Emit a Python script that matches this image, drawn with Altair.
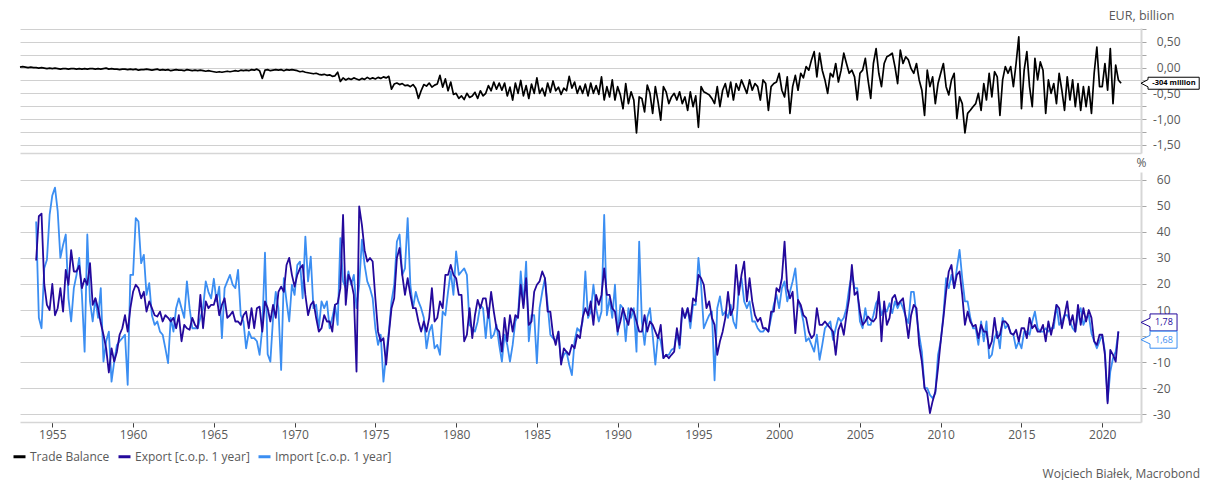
import altair as alt
import numpy as np
import pandas as pd

# ---------------- data (6 readings per year) ----------------
tb_start = 1953.0      # first reading of the trade balance
yoy_start = 1954.0     # first reading of export / import growth
per_year = 6

trade_balance = [
    0.01, 0.02, 0.01, 0.0, 0.01, 0.0,            # 1953
    0.0, -0.01, 0.0, -0.01, -0.02, -0.01,        # 1954
    -0.02, -0.01, -0.02, -0.03, -0.02, -0.02,    # 1955
    -0.03, -0.02, -0.02, -0.03, -0.02, -0.03,    # 1956
    -0.02, -0.03, -0.02, -0.02, -0.03, -0.02,    # 1957
    -0.03, -0.02, -0.01, -0.03, -0.02, -0.03,    # 1958
    -0.03, -0.04, -0.03, -0.03, -0.04, -0.03,    # 1959
    -0.04, -0.03, -0.05, -0.04, -0.04, -0.03,    # 1960
    -0.04, -0.05, -0.04, -0.03, -0.05, -0.04,    # 1961
    -0.05, -0.04, -0.06, -0.05, -0.04, -0.05,    # 1962
    -0.05, -0.06, -0.04, -0.05, -0.06, -0.05,    # 1963
    -0.06, -0.05, -0.06, -0.07, -0.06, -0.07,    # 1964
    -0.08, -0.09, -0.08, -0.09, -0.08, -0.07,    # 1965
    -0.08, -0.07, -0.06, -0.07, -0.05, -0.06,    # 1966
    -0.05, -0.06, -0.04, -0.05, -0.03, -0.06,    # 1967
    -0.21, -0.05, -0.04, -0.06, -0.05, -0.04,    # 1968
    -0.05, -0.04, -0.06, -0.04, -0.05, -0.04,    # 1969
    -0.05, -0.06, -0.08, -0.07, -0.09, -0.10,    # 1970
    -0.11, -0.12, -0.11, -0.13, -0.14, -0.13,    # 1971
    -0.15, -0.14, -0.17, -0.16, -0.09, -0.27,    # 1972
    -0.20, -0.24, -0.21, -0.23, -0.20, -0.22,    # 1973
    -0.24, -0.21, -0.23, -0.19, -0.22, -0.20,    # 1974
    -0.22, -0.19, -0.21, -0.18, -0.20, -0.17,    # 1975
    -0.42, -0.32, -0.30, -0.33, -0.31, -0.35,    # 1976
    -0.34, -0.37, -0.33, -0.40, -0.60, -0.45,    # 1977
    -0.33, -0.36, -0.30, -0.38, -0.34, -0.32,    # 1978
    -0.15, -0.38, -0.22, -0.45, -0.28, -0.52,    # 1979
    -0.50, -0.60, -0.55, -0.62, -0.50, -0.58,    # 1980
    -0.55, -0.48, -0.60, -0.45, -0.55, -0.50,    # 1981
    -0.35, -0.45, -0.28, -0.42, -0.30, -0.44,    # 1982
    -0.30, -0.55, -0.38, -0.63, -0.30, -0.50,    # 1983
    -0.25, -0.55, -0.35, -0.60, -0.32, -0.50,    # 1984
    -0.20, -0.50, -0.40, -0.55, -0.30, -0.48,    # 1985
    -0.26, -0.45, -0.38, -0.52, -0.40, -0.45,    # 1986
    -0.17, -0.40, -0.28, -0.50, -0.36, -0.50,    # 1987
    -0.32, -0.55, -0.30, -0.50, -0.35, -0.52,    # 1988
    -0.18, -0.63, -0.37, -0.57, -0.24, -0.63,    # 1989
    -0.37, -0.53, -0.80, -0.31, -0.70, -0.47,    # 1990
    -0.63, -1.27, -0.57, -0.60, -0.86, -0.34,    # 1991
    -0.50, -0.89, -0.37, -0.66, -1.02, -0.37,    # 1992
    -0.47, -0.70, -0.57, -0.50, -0.63, -0.47,    # 1993
    -0.70, -0.57, -0.83, -0.47, -0.76, -0.55,    # 1994
    -1.16, -0.37, -0.47, -0.50, -0.53, -0.60,    # 1995
    -0.70, -0.37, -0.76, -0.44, -0.31, -0.57,    # 1996
    -0.28, -0.63, -0.31, -0.44, -0.24, -0.37,    # 1997
    -0.50, -0.24, -0.44, -0.31, -0.37, -0.63,    # 1998
    -0.24, -0.31, -0.83, -0.37, -0.31, -0.28,    # 1999
    -0.11, -0.44, -0.57, -0.18, -0.89, -0.37,    # 2000
    -0.15, -0.44, -0.11, -0.20, 0.02, -0.05,     # 2001
    0.15, 0.31, -0.18, 0.28, -0.05, -0.24,       # 2002
    -0.50, -0.11, -0.18, 0.08, -0.28, -0.05,     # 2003
    0.28, 0.08, -0.11, -0.05, -0.18, -0.63,      # 2004
    -0.11, -0.05, 0.18, -0.24, -0.60, 0.08,      # 2005
    0.37, -0.11, -0.37, 0.08, 0.21, 0.24,        # 2006
    0.28, 0.02, -0.31, 0.34, 0.08, 0.21,         # 2007
    0.15, -0.02, -0.11, 0.08, -0.24, -0.44,      # 2008
    -0.93, -0.05, -0.37, -0.18, -0.70, -0.31,    # 2009
    -0.11, 0.08, -0.37, -0.53, -0.24, -0.11,     # 2010
    -0.99, -0.57, -0.70, -1.27, -0.89, -0.83,    # 2011
    -0.76, -0.70, -0.50, -0.83, -0.31, -0.63,    # 2012
    -0.11, -0.57, -0.08, -0.18, -0.93, -0.24,    # 2013
    0.02, -0.11, 0.02, -0.37, 0.08, 0.60,        # 2014
    -0.80, -0.05, 0.31, -0.37, -0.76, 0.18,      # 2015
    -0.24, 0.11, -0.05, -0.89, -0.24, -0.50,     # 2016
    -0.31, -0.70, -0.11, -0.44, -0.83, -0.18,    # 2017
    -0.63, -0.24, -0.76, -0.31, -0.83, -0.37,    # 2018
    -0.76, -0.37, -0.89, -0.11, 0.40, -0.37,     # 2019
    -0.37, 0.08, -0.44, 0.37, -0.70, 0.05,       # 2020
    -0.24, -0.304,                               # 2021
]

export_yoy = [
    29, 46, 47, 20, 12, 10,              # 1954
    20, 8, 10.7, 18.4, 9.4, 25.4,        # 1955
    19.7, 33, 24.8, 24.8, 27, 18.4,      # 1956
    22, 19.7, 28, 12, 14.5, 10.7,        # 1957
    5, 0.5, -4.7, -14, -4.7, -9.8,       # 1958
    -6, 0.5, 3, 8, 1.7, 10.7,            # 1959
    17, 19.7, 18.4, 14.5, 17, 9.4,       # 1960
    13.3, 10.7, 8, 7.5, 9.4, 5.6,        # 1961
    8, 7, 5.6, 7, 3, 8,                  # 1962
    -2, 4.3, 3, 2.4, 7, 4.3,             # 1963
    3, 15.8, 3, 13.3, 10.7, 12,          # 1964
    12, 15.8, 8, 12, 14.5, 7,            # 1965
    8, 9.4, 5.6, 5.6, 4.3, 8,            # 1966
    9.4, 3, 10.7, 3, 10.7, 11.3,         # 1967
    1.7, 13.3, 10.7, 5.6, 12, 7,         # 1968
    17, 19, 17, 27.3, 30, 23.5,          # 1969
    19, 23.5, 26, 27.3, 15.8, 8,         # 1970
    12, 13.3, 7, 1.7, 3, 8,              # 1971
    5.6, 5.6, 1.7, 12, 12.6, 18.4,       # 1972
    46.5, 12, 23.5, 21, 15.8, -13.6,     # 1973
    49.8, 42.7, 33, 28.6, 30, 28.6,      # 1974
    14.5, 1.7, -2, -0.8, -11, 0.5,       # 1975
    10.7, 14.5, 30, 33.8, 23.5, 15.8,    # 1976
    22.2, 15.8, 10.7, 10.7, 5.6, 1.7,    # 1977
    5.6, 1.7, 7, 18.4, 5.6, 7,           # 1978
    13.3, 10.7, 23.5, 23.5, 27.3, 23.5,  # 1979
    22.2, 15.8, 15.8, -2, 0.5, 10.7,     # 1980
    -0.8, 8, 13.9, 10.7, 14.5, 14.5,     # 1981
    7, 17, 9.4, 3, 1.7, -6,              # 1982
    7, -2, 8, 1.7, 8, 7,                 # 1983
    19.7, 10.7, 22.2, 4.3, 5.6, 17,      # 1984
    19.7, 21, 24.8, 22.2, 9.4, 9.4,      # 1985
    0.5, -3.4, 1.7, -11, -4.7, -6,       # 1986
    -7.2, -3.4, -4.7, 0.5, -0.8, 7,      # 1987
    10.7, 8, 13.3, 4.3, 15.8, 12,        # 1988
    15.8, 26, 15.8, 15.8, 10.7, 9.4,     # 1989
    1.7, 5.6, 10.7, 7, 4.3, 10.7,        # 1990
    9.4, 5.6, 1.7, 1.7, 8, 1.7,          # 1991
    5.6, 4.3, 1.7, -0.8, 4.3, -8.5,      # 1992
    -7.2, -8.5, -7.2, -6, 3, -3.4,       # 1993
    10.7, 7, 10.7, 5.6, 14.5, 13.3,      # 1994
    23.5, 22.2, 19.7, 10.7, 13.3, 7,     # 1995
    4.3, -7.2, -2, 1.7, 7, 17,           # 1996
    8, 10.7, 27.3, 15.8, 23.5, 28.6,     # 1997
    13.3, 22.2, 13.3, 8, 5.6, 7,         # 1998
    3, 3, 1.7, 9.4, 9.4, 18.4,           # 1999
    17, 22.2, 36.3, 18.4, 14.5, 17,      # 2000
    1.1, 13.9, 12, 8, 7, 1.7,            # 2001
    -0.8, 0.5, 10.7, 4.3, 4.3, 5.6,      # 2002
    4.3, 3, 1.7, -7.2, 2.4, 5,           # 2003
    0.5, 8, 14.5, 27.3, 15.8, 17,        # 2004
    9.4, 4.3, 5.6, 7.5, 6.2, 5.6,        # 2005
    7, 17, -2, 13.3, 4.3, 7,             # 2006
    14.5, 15.8, 12, 13.3, 14.5, 7,       # 2007
    -0.8, 8, 12, 10.7, -3.4, -9.8,       # 2008
    -20, -22, -29.6, -25, -21.3, -12.3,  # 2009
    -2, 7, 17, 24.8, 27.3, 18.4,         # 2010
    23.5, 24.8, 15.8, 4.3, 9.4, 5.6,     # 2011
    3.7, 4.3, -0.8, 4.3, 1.7, 1.7,       # 2012
    -4.7, -2, 7, -0.8, 0.5, 5.6,         # 2013
    5.6, 4.3, 1.1, 0.5, 2.4, -2,         # 2014
    3, 3, -0.8, 7, 3, 4.3,               # 2015
    1.7, 1.7, 4.3, -2, 5.6, 0.5,         # 2016
    5.6, 12, 10.7, 3, 8, 13.3,           # 2017
    4.3, 8, 1.7, 12, 4.3, 10.7,          # 2018
    5.6, 10, 7, -2, -3.4, 0.5,           # 2019
    0.5, -7.2, -25.8, -5.3, -7.2, -9.8,  # 2020
    1.78,                                # 2021
]

import_yoy = [
    44, 7, 3, 26, 29.3, 46.5,            # 1954
    54, 57, 48, 30, 35, 39,              # 1955
    14.5, 5.6, 18.4, 23.5, 30, 15.8,     # 1956
    -6, 39, 13.3, 5.6, 14.5, 7,          # 1957
    18.4, -9.8, -2, 1.7, -17.5, -9.8,    # 1958
    -3.4, -2, -0.8, 0.5, -18.7, 23.5,    # 1959
    23.5, 45.3, 44, 28, 31.2, 15.8,      # 1960
    20.3, 8, 4.3, 5.6, 1.7, 0.5,         # 1961
    -4.7, -10.4, 7, 1.7, 10.7, 14.5,     # 1962
    10.7, 7, 21, 10.7, 3, 3,             # 1963
    3, 7, 10.7, 21, 17, 14.5,            # 1964
    22, 13.3, 19, -0.8, 18.4, 21,        # 1965
    23.5, 19.7, 18.4, 25.4, 8, 5.6,      # 1966
    -4.7, 1.7, -0.8, -0.8, -2, -7.2,     # 1967
    3, 32, -7, -9.8, 7, 17,              # 1968
    10.7, -13, 22.2, 13.3, 5.6, 19.7,    # 1969
    15.8, 27.3, 28.6, 14.5, 38.2, 21,    # 1970
    30.5, 10.7, 12, 3, 13.3, 10.7,       # 1971
    13.3, 3, 7, 12, 4.3, 37.6,           # 1972
    21, 18.4, 24.8, 19.7, 23.5, 10.7,    # 1973
    19.7, 37, 27.3, 21, 18.4, 14.5,      # 1974
    3, -3.4, 0.5, -17.5, -7.2, 1.7,      # 1975
    13.3, 19.7, 36.3, 39, 23.5, 26,      # 1976
    45.3, 19.7, 10.7, 17, 13.3, 10.7,    # 1977
    7, -4.7, 1.7, 4.3, -4.7, -3.4,       # 1978
    -7.2, 9.4, 8, 17, 24.8, 15.8,        # 1979
    32.5, 23.5, 24.8, 26, 23.5, 4.3,     # 1980
    3, 1.7, 5.6, 12, 10.7, -0.8,         # 1981
    10.7, -0.8, 0.5, 4.3, -3.4, -9.8,    # 1982
    0.5, -3.4, -9.8, -3.4, 5.6, 8,       # 1983
    24.8, 12, 28.6, -2, 8, 8,            # 1984
    -10.4, 10.7, 17, 22.2, 12, 0.5,      # 1985
    -0.8, -2, 1.7, -9.8, -7.2, -6,       # 1986
    -11, -15, -2, 3, 1.7, 5.6,           # 1987
    24.8, 7, 9.4, 19.7, 10.7, 5.6,       # 1988
    9.4, 46.5, 8, 14.5, 7, 19.7,         # 1989
    0.5, 12, 10.7, -2, 10.7, 7,          # 1990
    10.7, -6, 36.3, 5.6, -3.4, 7,        # 1991
    10.7, 0.5, -11, 0.5, -2, -8.5,       # 1992
    -7.2, -7.2, -5.3, -4.7, 1.7, -4.7,   # 1993
    9.4, 7, 10.7, 3, 12, 12,             # 1994
    30, 19.7, 3, 5.6, 8, 9.4,            # 1995
    -17, 10.7, 15.2, 8, 9.4, 7,          # 1996
    12, 5.6, 3, 18.4, 22.2, 13.3,        # 1997
    10.7, 13.3, 5.6, 5.6, 3, 1.7,        # 1998
    1.7, 3, 1.7, 7, 12, 15.8,            # 1999
    10.7, 18.4, 21, 13.3, 17, 21,        # 2000
    26, 13.3, 10.7, 5.6, -2, -0.8,       # 2001
    -3.4, -6, 0.5, -9.1, -3.4, 3,        # 2002
    4.3, 5.6, -1.5, 3, 7, 5.6,           # 2003
    7, 10.7, 18.4, 23.5, 18.4, 18.4,     # 2004
    5.6, 3, 10.7, 4.3, 4.3, 8,           # 2005
    12.6, 14.5, 8, 10.7, 9.4, 12.6,      # 2006
    8.8, 13.3, 10.7, 13.3, 10.7, 7.5,    # 2007
    5, 17, 17, 8, 0.5, -6,               # 2008
    -20, -20, -22.6, -23.9, -22, -7.2,   # 2009
    -2, 8, 22.2, 18.4, 23.5, 18.4,       # 2010
    26, 33.1, 22.2, 13.3, 13.3, 7,       # 2011
    3, 3, -3.4, 5.6, -2, 5.6,            # 2012
    -8.5, -7.2, -0.8, 1.7, -4.7, 7,      # 2013
    3, 4.3, 1.1, 0.5, -4.7, -2,          # 2014
    -4.7, 1.7, 1.7, 0.5, 5.6, 9.4,       # 2015
    3, 1.7, 1.7, 3, 1.7, 3,              # 2016
    3, 12, 4.3, 5.6, 8, 8,               # 2017
    5.6, 3, 1.7, 8, 10.7, 4.3,           # 2018
    7, 8, 1.1, -2, -4.7, -2,             # 2019
    0.5, -6, -25, -13.6, -8.5, -6,       # 2020
    1.68,                                # 2021
]

series_names = ["Trade Balance", "Export [c.o.p. 1 year]", "Import [c.o.p. 1 year]"]
series_colors = ["#000000", "#24099c", "#3b8ef2"]

year_ticks = list(range(1955, 2021, 5))
tb_ticks = [round(-1.5 + 0.25 * k, 2) for k in range(10)]
pct_ticks = list(range(-30, 61, 10))
credit = "Wojciech Białek, Macrobond"

# ---------------- layout constants ----------------
W = 1121
H_TOP = 125
H_BOT = 250
AXC = "#595959"
GRID = "#d0d0d0"
DOM = "#d6d6d6"
FONT = "Open Sans"


def years(start, n):
    return start + np.arange(n) / per_year


tb_df = pd.DataFrame({"year": years(tb_start, len(trade_balance)),
                      "value": trade_balance, "series": series_names[0]})
exp_df = pd.DataFrame({"year": years(yoy_start, len(export_yoy)),
                       "value": export_yoy, "series": series_names[1]})
imp_df = pd.DataFrame({"year": years(yoy_start, len(import_yoy)),
                       "value": import_yoy, "series": series_names[2]})


def comma(v):
    return f"{v:.2f}".replace(".", ",")


tb_last = pd.DataFrame({"value": [trade_balance[-1]],
                        "label": [f"{round(trade_balance[-1] * 1000)} million"]})
exp_last = pd.DataFrame({"value": [export_yoy[-1]], "label": [comma(export_yoy[-1])]})
imp_last = pd.DataFrame({"value": [import_yoy[-1]], "label": [comma(import_yoy[-1])]})
credit_df = pd.DataFrame({"t": [credit]})

x_scale = alt.Scale(domain=[1953.0, 2022.4], nice=False, zero=False)
color_scale = alt.Scale(domain=series_names, range=series_colors)
top_y_scale = alt.Scale(domain=[-1.66, 0.77], nice=False, zero=False)
bot_y_scale = alt.Scale(domain=[-33, 63], nice=False, zero=False)

top_x_axis = alt.Axis(labels=False, ticks=False, grid=False, domainColor=DOM,
                      domainWidth=1.5, title=None)
bot_x_axis = alt.Axis(values=year_ticks, format="d", tickSize=5, tickColor="#404040",
                      grid=False, domainColor=DOM, domainWidth=1.5, labelFontSize=12,
                      labelColor=AXC, labelPadding=2, labelFlush=False,
                      labelOverlap=False, labelFont=FONT, title=None)
top_y_axis = alt.Axis(
    orient="right", values=tb_ticks, grid=True, gridColor=GRID, gridWidth=1,
    tickSize=5, tickColor="#a6a6a6", domainColor=DOM, domainWidth=2,
    labelExpr="abs(datum.value * 2 - round(datum.value * 2)) < 0.01 ? "
              "(datum.value < -0.001 ? '-' : '') + replace(format(abs(datum.value), '.2f'), '.', ',') : ''",
    labelAlign="right", labelPadding=34, labelFontSize=12, labelColor=AXC,
    labelOverlap=False, labelFont=FONT,
    title="EUR, billion", titleAngle=0, titleX=0, titleY=-13, titleAlign="center",
    titleBaseline="middle", titleFontWeight="normal", titleFontSize=12.5,
    titleColor=AXC, titleFont=FONT)
bot_y_axis = alt.Axis(
    orient="right", values=pct_ticks, grid=True, gridColor=GRID, gridWidth=1,
    tickSize=5, tickColor="#a6a6a6", domainColor=DOM, domainWidth=2,
    labelExpr="(datum.value < 0 ? '-' : '') + format(abs(datum.value), 'd')",
    labelAlign="right", labelPadding=24, labelFontSize=12, labelColor=AXC,
    labelOverlap=False, labelFont=FONT,
    title="%", titleAngle=0, titleX=0, titleY=-10, titleAlign="center",
    titleBaseline="middle", titleFontWeight="normal", titleFontSize=12,
    titleColor=AXC, titleFont=FONT)

legend = alt.Legend(orient="none", legendX=-8, legendY=277, direction="horizontal",
                    title=None, symbolType="stroke", symbolSize=144,
                    symbolStrokeWidth=3, labelFontSize=12, labelColor=AXC,
                    labelFont=FONT, columnPadding=2, labelOffset=3)

# ---------------- top panel: trade balance ----------------
top_line = alt.Chart(tb_df).mark_line(strokeWidth=1.7, strokeJoin="round").encode(
    x=alt.X("year:Q", scale=x_scale, axis=top_x_axis),
    y=alt.Y("value:Q", scale=top_y_scale, axis=top_y_axis),
    color=alt.Color("series:N", scale=color_scale, legend=None),
)
top_callout = alt.Chart(tb_last).mark_point(
    shape="M0,0L1.17,-0.6L1.17,-1L9.7,-1L9.7,1L1.17,1L1.17,0.6Z", size=144,
    filled=True, fill="white", stroke="#000000", strokeWidth=1, opacity=1,
).encode(x=alt.value(W), y=alt.Y("value:Q", scale=top_y_scale, axis=top_y_axis))
top_callout_text = alt.Chart(tb_last).mark_text(
    fontSize=7.5, fontWeight="bold", color="#000000", align="center", baseline="middle",
    font=FONT,
).encode(x=alt.value(W + 33), y=alt.Y("value:Q", scale=top_y_scale, axis=top_y_axis),
         text="label:N")

top = alt.layer(top_line, top_callout, top_callout_text).properties(width=W, height=H_TOP)

# ---------------- bottom panel: export / import growth ----------------
imp_line = alt.Chart(imp_df).mark_line(strokeWidth=1.8, strokeJoin="round").encode(
    x=alt.X("year:Q", scale=x_scale, axis=bot_x_axis),
    y=alt.Y("value:Q", scale=bot_y_scale, axis=bot_y_axis),
    color=alt.Color("series:N", scale=color_scale, legend=legend),
)
exp_line = alt.Chart(exp_df).mark_line(strokeWidth=1.8, strokeJoin="round").encode(
    x=alt.X("year:Q", scale=x_scale, axis=bot_x_axis),
    y=alt.Y("value:Q", scale=bot_y_scale, axis=bot_y_axis),
    color=alt.Color("series:N", scale=color_scale, legend=legend),
)

box_path = "M0,0L1.06,-0.5L1.06,-1L4.24,-1L4.24,1L1.06,1L1.06,0.5Z"


def callout(df, color, offset):
    pt = alt.Chart(df).mark_point(
        shape=box_path, size=289, filled=True, fill="white", stroke=color,
        strokeWidth=1, opacity=1, yOffset=offset,
    ).encode(x=alt.value(W), y=alt.Y("value:Q", scale=bot_y_scale, axis=bot_y_axis))
    tx = alt.Chart(df).mark_text(
        fontSize=9, color=color, align="center", baseline="middle", yOffset=offset,
        font=FONT,
    ).encode(x=alt.value(W + 23), y=alt.Y("value:Q", scale=bot_y_scale, axis=bot_y_axis),
             text="label:N")
    return [pt, tx]


credit_text = alt.Chart(credit_df).mark_text(
    align="right", baseline="alphabetic", fontSize=12, color=AXC, font=FONT,
).encode(x=alt.value(1180), y=alt.value(306), text="t:N")

bottom = alt.layer(
    imp_line, exp_line,
    *callout(exp_last, series_colors[1], -9),
    *callout(imp_last, series_colors[2], 8),
    credit_text,
).properties(width=W, height=H_BOT)

chart = (
    alt.vconcat(top, bottom, spacing=19, bounds="flush")
    .resolve_scale(color="independent")
    .resolve_legend(color="independent")
    .properties(padding={"left": 4, "top": 1, "right": 0, "bottom": 0})
    .configure(font=FONT)
    .configure_view(stroke=None)
)

chart.save("out.html", embed_options={"renderer": "svg", "actions": False})
